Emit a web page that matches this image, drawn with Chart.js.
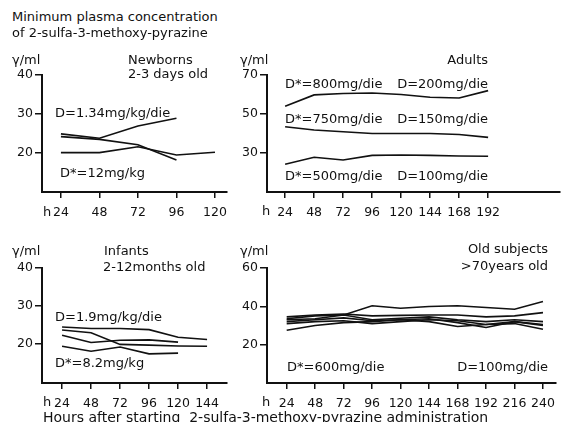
<!DOCTYPE html>
<html>
<head>
<meta charset="utf-8">
<script src="https://cdn.jsdelivr.net/npm/chart.js@4"></script>
<style>
  body { margin: 0; background: #fff; }
  #wrap { position: relative; width: 562px; height: 422px; overflow: hidden; background: #fff;
          font-family: 'DejaVu Sans', sans-serif; font-size: 13px; color: #111; }
  canvas { position: absolute; }
  .t { position: absolute; white-space: pre; line-height: 14px; }
  .r { text-align: right; }
</style>
</head>
<body>
<div id="wrap">
  <canvas id="newborns" width="240" height="170" style="left:0;top:60px"></canvas>
  <canvas id="adults" width="337" height="170" style="left:225px;top:60px"></canvas>
  <canvas id="infants" width="240" height="168" style="left:0;top:253px"></canvas>
  <canvas id="old" width="337" height="168" style="left:225px;top:253px"></canvas>

  <div class="t" style="left:12px;top:10px">Minimum plasma concentration</div>
  <div class="t" style="left:12px;top:26px">of 2-sulfa-3-methoxy-pyrazine</div>

  <div class="t" style="left:12px;top:53px">γ/ml</div>
  <div class="t" style="left:128px;top:53px">Newborns</div>
  <div class="t" style="left:128px;top:67px">2-3 days old</div>
  <div class="t" style="left:55px;top:106px">D=1.34mg/kg/die</div>
  <div class="t" style="left:60px;top:166px">D*=12mg/kg</div>
  <div class="t" style="left:43px;top:205px">h</div>

  <div class="t" style="left:240px;top:53px">γ/ml</div>
  <div class="t r" style="right:74px;top:53px">Adults</div>
  <div class="t" style="left:285px;top:77px">D*=800mg/die</div>
  <div class="t r" style="right:74px;top:77px">D=200mg/die</div>
  <div class="t" style="left:285px;top:112px">D*=750mg/die</div>
  <div class="t r" style="right:74px;top:112px">D=150mg/die</div>
  <div class="t" style="left:285px;top:169px">D*=500mg/die</div>
  <div class="t r" style="right:74px;top:169px">D=100mg/die</div>
  <div class="t" style="left:262px;top:204px">h</div>

  <div class="t" style="left:12px;top:244px">γ/ml</div>
  <div class="t" style="left:104px;top:244px">Infants</div>
  <div class="t" style="left:103px;top:260px">2-12months old</div>
  <div class="t" style="left:55px;top:310px">D=1.9mg/kg/die</div>
  <div class="t" style="left:55px;top:356px">D*=8.2mg/kg</div>
  <div class="t" style="left:43px;top:395px">h</div>

  <div class="t" style="left:240px;top:244px">γ/ml</div>
  <div class="t r" style="right:14px;top:242px">Old subjects</div>
  <div class="t r" style="right:14px;top:259px">&gt;70years old</div>
  <div class="t" style="left:287px;top:360px">D*=600mg/die</div>
  <div class="t r" style="right:14px;top:360px">D=100mg/die</div>
  <div class="t" style="left:262px;top:395px">h</div>

  <div class="t" style="left:43px;top:410px;font-size:14px">Hours after starting  2-sulfa-3-methoxy-pyrazine administration</div>
</div>

<script>
// Newborns, 2-3 days old
var newbornHours = [24, 48, 72, 96, 120];
var newbornA = [24.9, 23.8, 26.9, 28.9];
var newbornB = [24.2, 23.5, 22.1, 18.2];
var newbornC = [20.1, 20.1, 21.6, 19.5, 20.2];
var newbornYTicks = [20, 30, 40];

// Adults
var adultHours = [24, 48, 72, 96, 120, 144, 168, 192];
var adult200 = [54.0, 59.8, 60.5, 60.8, 60.0, 58.6, 58.2, 62.0];
var adult150 = [43.5, 41.8, 40.9, 40.0, 40.0, 40.0, 39.5, 38.0];
var adult100 = [24.2, 27.8, 26.4, 28.8, 29.0, 28.8, 28.5, 28.3];
var adultYTicks = [30, 50, 70];

// Infants, 2-12 months old
var infantHours = [24, 48, 72, 96, 120, 144];
var infantA = [24.4, 24.0, 24.0, 23.7, 21.7, 21.1];
var infantB = [23.6, 22.9, 19.8, 19.6, 19.4, 19.3];
var infantC = [22.2, 20.3, 20.9, 21.0, 20.4];
var infantD = [19.3, 18.0, 19.1, 17.3, 17.5];
var infantYTicks = [20, 30, 40];

// Old subjects, >70 years old
var oldHours = [24, 48, 72, 96, 120, 144, 168, 192, 216, 240];
var old1 = [33.5, 35.0, 35.5, 40.3, 39.0, 39.9, 40.3, 39.4, 38.5, 42.5];
var old2 = [34.5, 35.5, 36.0, 35.0, 35.3, 35.5, 35.5, 34.5, 35.0, 36.7];
var old3 = [33.0, 33.5, 35.5, 33.0, 33.8, 34.5, 33.0, 32.0, 33.0, 32.0];
var old4 = [32.0, 33.0, 34.0, 32.5, 33.0, 33.5, 31.5, 29.0, 32.0, 30.5];
var old5 = [31.0, 32.0, 32.5, 31.0, 32.0, 33.0, 32.5, 30.5, 31.0, 28.0];
var old6 = [27.5, 30.0, 31.5, 32.0, 33.0, 32.0, 29.5, 30.5, 32.0, 30.0];
var oldYTicks = [20, 40, 60];

Chart.defaults.font.family = "'DejaVu Sans', sans-serif";
Chart.defaults.font.size = 12.5;
Chart.defaults.color = '#111';

function toPoints(hours, values) {
    return values.map(function (v, i) {
        return { x: hours[i], y: v };
    });
}

function drawPanel(id, hours, series, xMin, xMax, yMin, yMax, yTicks, padRight) {
    var ctx = document.getElementById(id).getContext('2d');
    var datasets = series.map(function (s) {
        return {
            data: toPoints(hours, s),
            borderColor: '#111',
            borderWidth: 1.6,
            pointRadius: 0,
            fill: false,
            tension: 0
        };
    });

    return new Chart(ctx, {
        type: 'line',
        data: { datasets: datasets },
        options: {
            responsive: false,
            animation: false,
            devicePixelRatio: 1,
            layout: { padding: { top: 15, right: padRight, left: 0, bottom: 0 } },
            plugins: { legend: { display: false }, tooltip: { enabled: false } },
            scales: {
                x: {
                    type: 'linear',
                    min: xMin,
                    max: xMax,
                    afterBuildTicks: function (scale) {
                        scale.ticks = hours.map(function (h) { return { value: h }; });
                    },
                    afterFit: function (scale) { scale.height = 38; },
                    ticks: { padding: 7, maxRotation: 0, autoSkip: false,
                             callback: function (v) { return String(v); } },
                    grid: { drawOnChartArea: false, drawTicks: true, tickLength: 6,
                            color: '#111', lineWidth: 1.5 },
                    border: { display: true, color: '#111', width: 2 }
                },
                y: {
                    min: yMin,
                    max: yMax,
                    afterBuildTicks: function (scale) {
                        scale.ticks = yTicks.map(function (v) { return { value: v }; });
                    },
                    afterFit: function (scale) { scale.width = 42; },
                    ticks: { padding: 2, callback: function (v) { return String(v); } },
                    grid: { drawOnChartArea: false, drawTicks: true, tickLength: 7,
                            color: '#111', lineWidth: 1.5 },
                    border: { display: true, color: '#111', width: 2 }
                }
            }
        }
    });
}

drawPanel('newborns', newbornHours, [newbornA, newbornB, newbornC], 12.2, 127.5, 10, 40, newbornYTicks, 13);
drawPanel('adults', adultHours, [adult200, adult150, adult100], 9, 251.5, 10, 70, adultYTicks, 2);
drawPanel('infants', infantHours, [infantA, infantB, infantC, infantD], 7.4, 160.5, 9.6, 40, infantYTicks, 13);
drawPanel('old', oldHours, [old1, old2, old3, old4, old5, old6], 7.4, 250.8, 0, 60, oldYTicks, 2);
</script>
</body>
</html>
